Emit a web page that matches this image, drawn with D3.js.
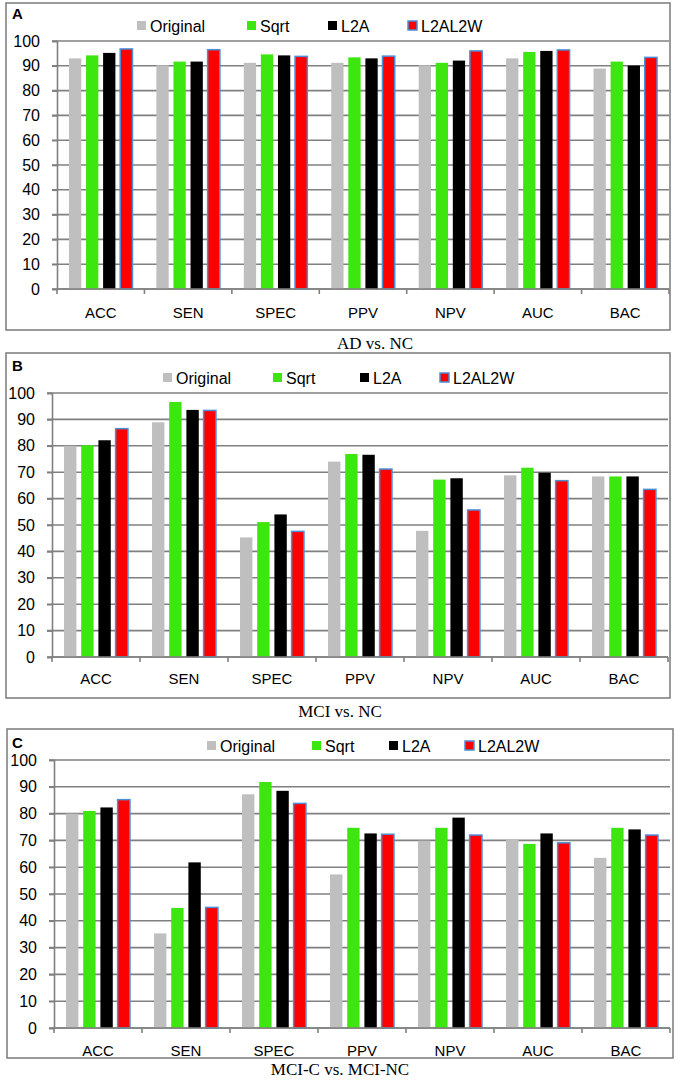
<!DOCTYPE html>
<html>
<head>
<meta charset="utf-8">
<script src="https://cdn.jsdelivr.net/npm/d3@7"></script>
<style>
  body { margin: 0; background: #fff; }
  svg { display: block; }
</style>
</head>
<body>
<div id="chart"></div>
<script>
// categories, series and ticks
var categories = ["ACC", "SEN", "SPEC", "PPV", "NPV", "AUC", "BAC"];
var seriesNames = ["Original", "Sqrt", "L2A", "L2AL2W"];
var yTicks = [0, 10, 20, 30, 40, 50, 60, 70, 80, 90, 100];

// A: AD vs. NC
var adOriginal = [93.0, 90.2, 91.2, 91.2, 90.2, 93.0, 88.9];
var adSqrt     = [94.2, 91.7, 94.6, 93.4, 91.2, 95.6, 91.7];
var adL2A      = [95.2, 91.7, 94.2, 93.0, 92.1, 96.0, 90.1];
var adL2AL2W   = [96.8, 96.5, 93.8, 93.9, 96.0, 96.4, 93.4];

// B: MCI vs. NC
var mciOriginal = [80.0, 88.9, 45.3, 74.0, 47.8, 68.8, 68.4];
var mciSqrt     = [80.2, 96.6, 51.1, 76.9, 67.2, 71.7, 68.4];
var mciL2A      = [82.1, 93.6, 54.0, 76.6, 67.7, 69.8, 68.4];
var mciL2AL2W   = [86.5, 93.4, 47.6, 71.2, 55.7, 66.8, 63.5];

// C: MCI-C vs. MCI-NC
var convOriginal = [80.0, 35.3, 87.2, 57.3, 69.9, 70.5, 63.5];
var convSqrt     = [81.0, 44.8, 91.8, 74.7, 74.7, 68.7, 74.7];
var convL2A      = [82.3, 61.8, 88.5, 72.6, 78.5, 72.6, 74.1];
var convL2AL2W   = [85.2, 45.0, 83.8, 72.3, 72.0, 69.1, 72.0];

var colors = ["#bfbfbf", "#3ee60f", "#000000", "#ff0000"];
var sansFont = "'Liberation Sans', Arial, sans-serif";
var serifFont = "'Liberation Serif', 'Times New Roman', serif";
var gridColor = "#808080";

var svg = d3.select("#chart").append("svg")
    .attr("width", 680)
    .attr("height", 1080);

function drawPanel(p, series) {
    var g = svg.append("g");

    // outer frame
    g.append("rect")
        .attr("x", p.frame[0]).attr("y", p.frame[1])
        .attr("width", p.frame[2]).attr("height", p.frame[3])
        .attr("fill", "#fff")
        .attr("stroke", "#7a7a7a")
        .attr("stroke-width", 1.5);

    var x0 = d3.scaleBand().domain(categories).range([p.left, p.right]).padding(0);
    var x1 = d3.scaleBand().domain(seriesNames).range([0, x0.bandwidth()])
        .paddingInner(0.28).paddingOuter(0.7);
    var y = d3.scaleLinear().domain([0, 100]).range([p.bottom, p.top]);

    // gridlines
    g.append("g")
        .selectAll("line")
        .data(yTicks)
        .enter()
        .append("line")
            .attr("x1", p.left - 5)
            .attr("x2", p.right)
            .attr("y1", function(d) { return y(d); })
            .attr("y2", function(d) { return y(d); })
            .attr("stroke", gridColor)
            .attr("stroke-width", 1.6);

    // y axis labels
    var yAxis = g.append("g")
        .attr("transform", "translate(" + p.left + ",0)")
        .call(d3.axisLeft(y).tickValues(yTicks).tickSize(5).tickPadding(12));
    yAxis.select(".domain").attr("stroke", gridColor).attr("stroke-width", 1.6);
    yAxis.selectAll(".tick line").attr("stroke", gridColor).attr("stroke-width", 1.6);
    yAxis.selectAll("text")
        .attr("font-family", sansFont)
        .attr("font-size", 16)
        .attr("fill", "#000");

    // bars
    g.append("g")
        .selectAll("g")
        .data(categories)
        .enter()
        .append("g")
            .attr("transform", function(d) { return "translate(" + x0(d) + ",0)"; })
            .selectAll("rect")
            .data(function(d, i) { return seriesNames.map(function(s, j) {
                return { key: s, idx: j, value: series[j][i] };
            })})
            .enter()
            .append("rect")
                .attr("x", function(d) { return x1(d.key); })
                .attr("y", function(d) { return y(d.value); })
                .attr("width", x1.bandwidth())
                .attr("height", function(d) { return p.bottom - y(d.value); })
                .attr("fill", function(d) { return colors[d.idx]; })
                .attr("stroke", function(d) { return d.idx == 3 ? "#4a90d9" : "none"; })
                .attr("stroke-width", 1.5);

    // x axis line and boundary ticks
    g.append("line")
        .attr("x1", p.left).attr("x2", p.right)
        .attr("y1", p.bottom).attr("y2", p.bottom)
        .attr("stroke", gridColor).attr("stroke-width", 1.6);
    var bounds = categories.map(function(c) { return x0(c); }).concat([p.right]);
    g.append("g")
        .selectAll("line")
        .data(bounds)
        .enter()
        .append("line")
            .attr("x1", function(d) { return d; })
            .attr("x2", function(d) { return d; })
            .attr("y1", p.bottom)
            .attr("y2", p.bottom + 5)
            .attr("stroke", gridColor)
            .attr("stroke-width", 1.6);

    // category labels
    g.append("g")
        .selectAll("text")
        .data(categories)
        .enter()
        .append("text")
            .attr("x", function(d) { return x0(d) + x0.bandwidth() / 2; })
            .attr("y", p.catY)
            .attr("text-anchor", "middle")
            .attr("font-family", sansFont)
            .attr("font-size", 15)
            .text(function(d) { return d; });

    // legend
    var leg = g.append("g");
    seriesNames.forEach(function(s, j) {
        leg.append("rect")
            .attr("x", p.legendX[j])
            .attr("y", p.legendY - 5)
            .attr("width", 9)
            .attr("height", 9)
            .attr("fill", colors[j])
            .attr("stroke", j == 3 ? "#4a90d9" : "none")
            .attr("stroke-width", 1.5);
        leg.append("text")
            .attr("x", p.legendX[j] + 13)
            .attr("y", p.legendY + 6)
            .attr("font-family", sansFont)
            .attr("font-size", 16)
            .text(s);
    });

    // panel letter
    g.append("text")
        .attr("x", 12)
        .attr("y", p.letterY)
        .attr("font-family", sansFont)
        .attr("font-size", 15)
        .attr("font-weight", "bold")
        .text(p.letter);

    // caption under the panel
    svg.append("text")
        .attr("x", p.titleX)
        .attr("y", p.titleY)
        .attr("text-anchor", "middle")
        .attr("font-family", serifFont)
        .attr("font-size", 17)
        .text(p.title);
}

drawPanel({
    frame: [6, 3, 664, 327], left: 57, right: 669, top: 41, bottom: 289,
    catY: 318, legendY: 26, legendX: [137, 247, 328, 408],
    letter: "A", letterY: 19, title: "AD vs. NC", titleX: 375, titleY: 349
}, [adOriginal, adSqrt, adL2A, adL2AL2W]);

drawPanel({
    frame: [6, 353, 664, 345], left: 52, right: 668, top: 393, bottom: 657,
    catY: 684, legendY: 378, legendX: [163, 273, 360, 440],
    letter: "B", letterY: 371, title: "MCI vs. NC", titleX: 340, titleY: 717
}, [mciOriginal, mciSqrt, mciL2A, mciL2AL2W]);

drawPanel({
    frame: [7, 729, 666, 329], left: 54, right: 670, top: 760, bottom: 1028,
    catY: 1056, legendY: 746, legendX: [207, 312, 389, 465],
    letter: "C", letterY: 748, title: "MCI-C vs. MCI-NC", titleX: 340, titleY: 1075
}, [convOriginal, convSqrt, convL2A, convL2AL2W]);
</script>
</body>
</html>
